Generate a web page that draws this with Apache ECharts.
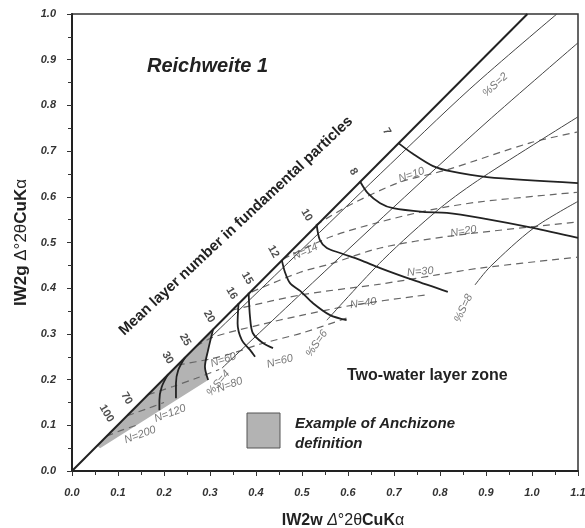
<!DOCTYPE html>
<html>
<head>
<meta charset="utf-8">
<script src="https://cdn.jsdelivr.net/npm/echarts@6/dist/echarts.min.js"></script>
<style>
  html, body { margin: 0; padding: 0; background: #fff; }
  #chart { width: 585px; height: 528px; }
</style>
</head>
<body>
<div id="chart"></div>
<script>
// 坐标轴刻度
const xTicks = [0.0, 0.1, 0.2, 0.3, 0.4, 0.5, 0.6, 0.7, 0.8, 0.9, 1.0, 1.1];
const yTicks = [0.0, 0.1, 0.2, 0.3, 0.4, 0.5, 0.6, 0.7, 0.8, 0.9, 1.0];

// 边界线 (Mean layer number in fundamental particles)
const boundary = [[0, 0], [0.99, 1.0]];

// 粗曲线：基本颗粒层数
const fp7 = [[0.709, 0.718], [0.741, 0.694], [0.785, 0.667], [0.822, 0.656], [0.902, 0.643], [1.1, 0.630]];
const fp8 = [[0.626, 0.634], [0.643, 0.608], [0.670, 0.586], [0.698, 0.575], [0.763, 0.567], [0.815, 0.565], [0.887, 0.554], [1.002, 0.532], [1.1, 0.510]];
const fp10 = [[0.532, 0.538], [0.539, 0.505], [0.554, 0.488], [0.583, 0.477], [0.626, 0.462], [0.670, 0.444], [0.741, 0.418], [0.817, 0.392]];
const fp12 = [[0.456, 0.462], [0.463, 0.435], [0.474, 0.411], [0.496, 0.394], [0.524, 0.367], [0.561, 0.341], [0.597, 0.330]];
const fp15 = [[0.384, 0.390], [0.387, 0.337], [0.393, 0.302], [0.415, 0.280], [0.437, 0.269]];
const fp16 = [[0.362, 0.367], [0.360, 0.323], [0.369, 0.287], [0.387, 0.265], [0.398, 0.250]];
const fp20 = [[0.307, 0.311], [0.296, 0.265], [0.289, 0.228], [0.296, 0.199]];
const fp25 = [[0.246, 0.249], [0.231, 0.221], [0.226, 0.192], [0.226, 0.159]];
const fp30 = [[0.209, 0.212], [0.195, 0.184], [0.190, 0.155], [0.190, 0.133]];

// 细实线：%S
const s2 = [[0.300, 0.291], [0.496, 0.481], [0.670, 0.650], [0.865, 0.836], [1.054, 1.0]];
const s4 = [[0.326, 0.225], [0.5, 0.39], [0.7, 0.578], [0.9, 0.762], [1.1, 0.937]];
const s6 = [[0.554, 0.330], [0.676, 0.462], [0.800, 0.575], [0.893, 0.643], [1.1, 0.775]];
const s8 = [[0.876, 0.407], [0.909, 0.447], [1.003, 0.531], [1.1, 0.590]];

// 虚线：N
const n10 = [[0.530, 0.538], [0.604, 0.582], [0.713, 0.632], [0.815, 0.659], [0.996, 0.718], [1.1, 0.742]];
const n14 = [[0.459, 0.464], [0.561, 0.512], [0.670, 0.545], [0.778, 0.571], [0.887, 0.589], [1.1, 0.610]];
const n20 = [[0.391, 0.392], [0.496, 0.435], [0.561, 0.453], [0.670, 0.488], [0.822, 0.514], [1.1, 0.545]];
const n30 = [[0.348, 0.352], [0.496, 0.385], [0.670, 0.409], [0.793, 0.429], [0.887, 0.444], [1.1, 0.468]];
const n40 = [[0.27, 0.273], [0.307, 0.293], [0.409, 0.320], [0.496, 0.340], [0.611, 0.363], [0.767, 0.385]];
const n60 = [[0.23, 0.232], [0.30, 0.245], [0.35, 0.258], [0.41, 0.278], [0.50, 0.302], [0.598, 0.335]];
const n80 = [[0.165, 0.167], [0.22, 0.185], [0.27, 0.203], [0.32, 0.222]];
const n120 = [[0.12, 0.121], [0.16, 0.135], [0.2, 0.15]];
const n200 = [[0.075, 0.076], [0.11, 0.09], [0.14, 0.10]];

// Anchizone 阴影区
const anchizone = [[0.055, 0.055], [0.307, 0.311], [0.296, 0.265], [0.289, 0.228], [0.296, 0.199], [0.061, 0.050]];

// 边界刻度标签
const boundaryLabels = [
  ['7', 0.684, 0.743], ['8', 0.612, 0.655], ['10', 0.510, 0.560], ['12', 0.438, 0.480],
  ['15', 0.381, 0.422], ['16', 0.347, 0.389], ['20', 0.298, 0.338], ['25', 0.246, 0.287],
  ['30', 0.208, 0.248], ['70', 0.119, 0.159], ['100', 0.075, 0.126]
];
// 曲线标签 [文本, x, y, 旋转角]
const curveLabels = [
  ['N=10', 0.738, 0.648, 18], ['N=14', 0.507, 0.480, 25], ['N=20', 0.851, 0.524, 10],
  ['N=30', 0.757, 0.436, 5], ['N=40', 0.633, 0.367, 8], ['N=60', 0.329, 0.243, 18],
  ['N=60', 0.452, 0.240, 15], ['N=80', 0.343, 0.188, 20], ['N=120', 0.213, 0.126, 20],
  ['N=200', 0.148, 0.079, 20],
  ['%S=2', 0.920, 0.845, 42], ['%S=4', 0.318, 0.192, 50], ['%S=6', 0.532, 0.279, 55],
  ['%S=8', 0.851, 0.356, 65]
];

const FONT = 'Arial, "Liberation Sans", sans-serif';

const thick = (data) => ({ type: 'line', data, symbol: 'none', smooth: 0.3, z: 5,
  lineStyle: { color: '#222', width: 1.8 } });
const thin = (data) => ({ type: 'line', data, symbol: 'none', smooth: 0.3, z: 4,
  lineStyle: { color: '#444', width: 1 } });
const dashed = (data) => ({ type: 'line', data, symbol: 'none', smooth: 0.3, z: 3,
  lineStyle: { color: '#666', width: 1.2, type: [7, 5] } });

const chart = echarts.init(document.getElementById('chart'));

chart.setOption({
  animation: false,
  grid: { left: 72, right: 7, top: 14, bottom: 57, show: true, borderColor: '#333', borderWidth: 1.5,
    containLabel: false, outerBoundsMode: 'none' },
  xAxis: {
    type: 'value', min: 0, max: 1.1, interval: 0.1,
    axisLine: { show: true, onZero: false, lineStyle: { color: '#222', width: 2 } },
    axisTick: { show: true, length: 5, lineStyle: { color: '#333' } },
    minorTick: { show: true, splitNumber: 2, length: 4, lineStyle: { color: '#333' } },
    splitLine: { show: false },
    axisLabel: { margin: 16, color: '#333', fontFamily: FONT, fontSize: 11, fontWeight: 'bold', fontStyle: 'italic',
      formatter: (v) => v.toFixed(1) },
    name: '{b|IW2w }{i|Δ}{n|°2θ}{b|CuK}{n|α}', nameLocation: 'middle', nameGap: 42,
    nameTextStyle: { padding: [0, 0, 0, 36], rich: {
      b: { fontFamily: FONT, fontSize: 16, fontWeight: 'bold', color: '#222' },
      i: { fontFamily: FONT, fontSize: 16, fontStyle: 'italic', color: '#222' },
      n: { fontFamily: FONT, fontSize: 16, color: '#222' }
    } }
  },
  yAxis: {
    type: 'value', min: 0, max: 1.0, interval: 0.1,
    axisLine: { show: true, onZero: false, lineStyle: { color: '#222', width: 2 } },
    axisTick: { show: true, length: 5, lineStyle: { color: '#333' } },
    minorTick: { show: true, splitNumber: 2, length: 4, lineStyle: { color: '#333' } },
    splitLine: { show: false },
    axisLabel: { margin: 16, color: '#333', fontFamily: FONT, fontSize: 11, fontWeight: 'bold', fontStyle: 'italic',
      formatter: (v) => v.toFixed(1) },
    name: '{b|IW2g }{n|Δ°2θ}{b|CuK}{n|α}', nameLocation: 'middle', nameGap: 42,
    nameTextStyle: { rich: {
      b: { fontFamily: FONT, fontSize: 17, fontWeight: 'bold', color: '#222' },
      n: { fontFamily: FONT, fontSize: 17, color: '#222' }
    } }
  },
  series: [
    {
      type: 'custom', z: 1, data: [0],
      renderItem: (params, api) => ({
        type: 'polygon',
        shape: { points: anchizone.map((p) => api.coord(p)) },
        style: { fill: '#b3b3b3' }
      })
    },
    dashed(n10), dashed(n14), dashed(n20), dashed(n30), dashed(n40), dashed(n60),
    dashed(n80), dashed(n120), dashed(n200),
    thin(s2), thin(s4), thin(s6), thin(s8),
    thick(fp7), thick(fp8), thick(fp10), thick(fp12), thick(fp15), thick(fp16),
    thick(fp20), thick(fp25), thick(fp30),
    { type: 'line', data: boundary, symbol: 'none', z: 6, lineStyle: { color: '#222', width: 2 } },
    {
      type: 'scatter', symbolSize: 1, z: 7, itemStyle: { color: 'transparent' },
      data: boundaryLabels.map((d) => ({ value: [d[1], d[2]], label: { formatter: d[0] } })),
      label: { show: true, position: 'inside', rotate: -60, fontFamily: FONT, fontSize: 11,
        fontWeight: 'bold', color: '#222' }
    },
    {
      type: 'scatter', symbolSize: 1, z: 7, itemStyle: { color: 'transparent' },
      data: curveLabels.map((d) => ({ value: [d[1], d[2]], label: { formatter: d[0], rotate: d[3] } })),
      label: { show: true, position: 'inside', fontFamily: FONT, fontSize: 11, fontStyle: 'italic',
        color: '#555' }
    }
  ],
  graphic: [
    { type: 'text', left: 147, top: 56, style: { text: 'Reichweite 1', fill: '#222',
      font: 'italic bold 20px ' + FONT } },
    { type: 'text', x: 236, y: 226, rotation: 43 * Math.PI / 180,
      style: { text: 'Mean layer number in fundamental particles', x: 0, y: 0, fill: '#222',
        textAlign: 'center', textVerticalAlign: 'middle', font: 'bold 15px ' + FONT } },
    { type: 'text', left: 347, top: 368, style: { text: 'Two-water layer zone', fill: '#222',
      font: 'bold 16px ' + FONT } },
    { type: 'rect', shape: { x: 247, y: 413, width: 33, height: 35 },
      style: { fill: '#b3b3b3', stroke: '#555', lineWidth: 1 } },
    { type: 'text', left: 295, top: 414, style: { text: 'Example of Anchizone\ndefinition', fill: '#222',
      font: 'italic bold 15px ' + FONT, lineHeight: 20 } }
  ]
});
</script>
</body>
</html>
